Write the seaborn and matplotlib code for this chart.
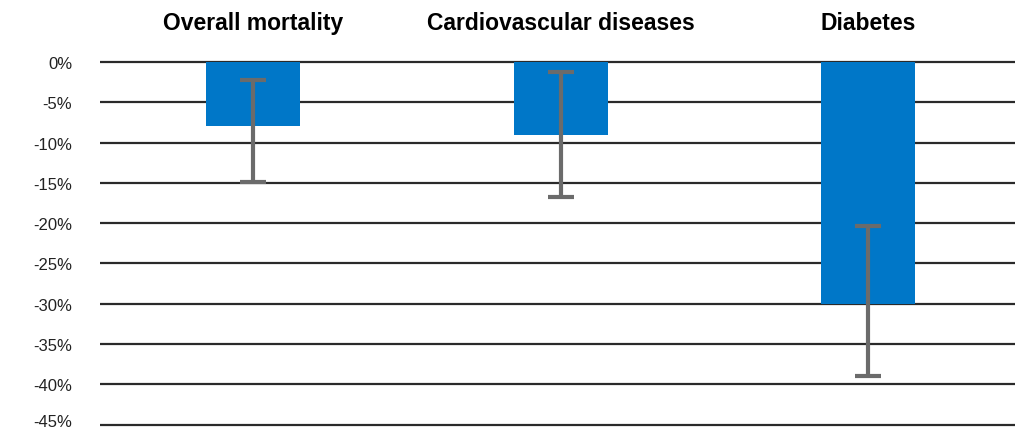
import numpy as np
import pandas as pd
import matplotlib
matplotlib.use('Agg')
import matplotlib.pyplot as plt
import matplotlib.transforms as mtransforms
import seaborn as sns

# data (% change)
categories = ['Overall mortality', 'Cardiovascular diseases', 'Diabetes']
values = [-8.0, -9.0, -30.0]
ci_upper = [-2.2, -1.2, -20.3]
ci_lower = [-14.9, -16.7, -39.0]
yticks = [0, -5, -10, -15, -20, -25, -30, -35, -40, -45]

df = pd.DataFrame({'category': categories, 'value': values})

sns.set_style('white')
plt.rcParams['font.family'] = ['Liberation Sans', 'DejaVu Sans']

fig = plt.figure(figsize=(10.15, 4.31), dpi=100)
ax = fig.add_axes([100 / 1015, 3 / 431, 915 / 1015, 369 / 431])

for t in yticks:
    ax.axhline(t, color='#2a2a2a', lw=1.6, zorder=1)

sns.barplot(data=df, x='category', y='value', color='#0077c8', saturation=1,
            width=0.306, linewidth=0, edgecolor='none', ax=ax, zorder=2)

x = np.arange(len(categories))
lo = np.array(values) - np.array(ci_lower)
hi = np.array(ci_upper) - np.array(values)
ax.errorbar(x, values, yerr=[lo, hi], fmt='none', ecolor='#6b6b6b',
            elinewidth=3, capsize=9.5, capthick=3, zorder=3)

ax.set_xlim(-0.498, 2.478)
ax.set_ylim(-45.3, 0.5)
ax.set_yticks(yticks)
ax.set_yticklabels([f'{t}%' for t in yticks], fontsize=12, color='#222222')
ax.tick_params(axis='y', length=0, pad=20)
# lowest label sits a little higher so it is not clipped
last = ax.get_yticklabels()[-1]
last.set_transform(last.get_transform() +
                   mtransforms.ScaledTranslation(0, 5 / 100, fig.dpi_scale_trans))
ax.xaxis.tick_top()
ax.set_xticks(x)
ax.set_xticklabels(categories, fontsize=16.5, fontweight='bold', color='black')
ax.tick_params(axis='x', length=0, pad=17)
ax.set_xlabel('')
ax.set_ylabel('')
for s in ax.spines.values():
    s.set_visible(False)

fig.savefig('out.png', dpi=100)
